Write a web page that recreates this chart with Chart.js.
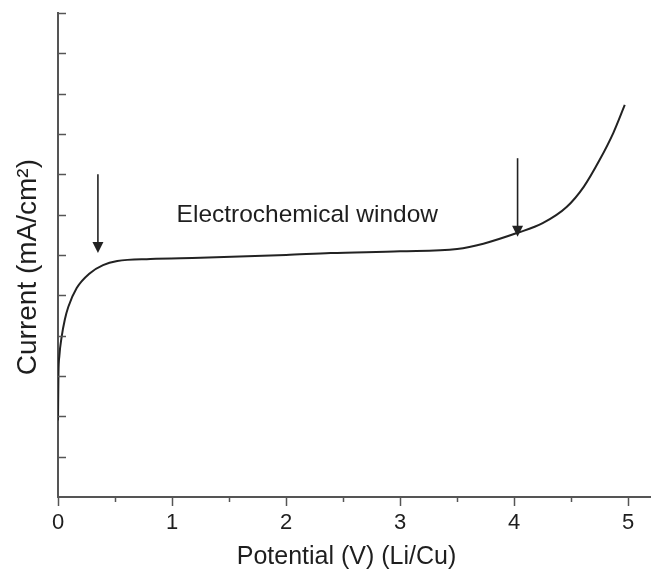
<!DOCTYPE html>
<html>
<head>
<meta charset="utf-8">
<script src="https://cdn.jsdelivr.net/npm/chart.js@4/dist/chart.umd.min.js"></script>
<style>
  html, body { margin: 0; padding: 0; background: #ffffff; }
  #wrap { width: 651px; height: 573px; position: relative; }
</style>
</head>
<body>
<div id="wrap"><canvas id="c" width="651" height="573"></canvas></div>
<script>
// ---- data ----
const potential = [0, 0.004, 0.012, 0.032, 0.06, 0.09, 0.164, 0.28, 0.395, 0.52, 0.81, 1.25, 2.0, 2.39, 3.0, 3.5, 3.73, 4.03, 4.25, 4.46, 4.61, 4.75, 4.87, 4.97];
const current   = [1.9, 3.05, 3.5, 3.97, 4.4, 4.71, 5.18, 5.55, 5.75, 5.85, 5.9, 5.93, 6.0, 6.05, 6.09, 6.15, 6.28, 6.55, 6.79, 7.19, 7.69, 8.36, 9.03, 9.72];
const xTickValues = [0, 0.5, 1, 1.5, 2, 2.5, 3, 3.5, 4, 4.5, 5];
const yTickValues = [0, 1, 2, 3, 4, 5, 6, 7, 8, 9, 10, 11, 12];
const arrowX    = [0.35, 4.03];
const arrowTop  = [8.0, 8.4];
const arrowTip  = [6.05, 6.45];
const annotationText = 'Electrochemical window';
const annotationPos = { x: 1.04, y: 6.82 };
const xTitle = 'Potential (V) (Li/Cu)';
const yTitle = 'Current (mA/cm\u00B2)';
const xTitleCenter = 2.53;   // along the potential axis
const yTitleCenter = 5.7;    // along the current axis

const FONT = '"Liberation Sans", Arial, Helvetica, sans-serif';
const TEXT = '#1e1e1e';
const AXIS = '#555555';

const points = potential.map((x, i) => ({ x: x, y: current[i] }));

const decorPlugin = {
  id: 'decor',
  afterDraw(chart) {
    const ctx = chart.ctx;
    const xs = chart.scales.x, ys = chart.scales.y;
    ctx.save();
    // inward y ticks
    ctx.strokeStyle = AXIS;
    ctx.lineWidth = 1.5;
    yTickValues.forEach(v => {
      if (v === 0) return;
      const py = Math.round(ys.getPixelForValue(v)) + 0.5;
      ctx.beginPath();
      ctx.moveTo(xs.left, py);
      ctx.lineTo(xs.left + 8, py);
      ctx.stroke();
    });
    // minor x ticks (shorter, outward)
    xTickValues.forEach(v => {
      if (v % 1 === 0) return;
      const px = Math.round(xs.getPixelForValue(v)) + 0.5;
      ctx.beginPath();
      ctx.moveTo(px, ys.bottom);
      ctx.lineTo(px, ys.bottom + 5);
      ctx.stroke();
    });
    // arrows
    ctx.strokeStyle = '#222222';
    ctx.fillStyle = '#222222';
    ctx.lineWidth = 1.6;
    arrowX.forEach((ax, i) => {
      const px = xs.getPixelForValue(ax);
      const pTop = ys.getPixelForValue(arrowTop[i]);
      const pTip = ys.getPixelForValue(arrowTip[i]);
      const headH = 11, headW = 5.5;
      ctx.beginPath();
      ctx.moveTo(px, pTop);
      ctx.lineTo(px, pTip - headH + 1);
      ctx.stroke();
      ctx.beginPath();
      ctx.moveTo(px - headW, pTip - headH);
      ctx.lineTo(px + headW, pTip - headH);
      ctx.lineTo(px, pTip);
      ctx.closePath();
      ctx.fill();
    });
    // annotation text
    ctx.fillStyle = TEXT;
    ctx.font = '24.5px ' + FONT;
    ctx.textAlign = 'left';
    ctx.textBaseline = 'alphabetic';
    ctx.fillText(annotationText, xs.getPixelForValue(annotationPos.x), ys.getPixelForValue(annotationPos.y));
    // axis titles
    ctx.textAlign = 'center';
    ctx.textBaseline = 'middle';
    ctx.font = '25px ' + FONT;
    ctx.fillText(xTitle, xs.getPixelForValue(xTitleCenter), chart.height - 16);
    ctx.save();
    ctx.translate(28, ys.getPixelForValue(yTitleCenter));
    ctx.rotate(-Math.PI / 2);
    ctx.font = '28px ' + FONT;
    ctx.fillText(yTitle, 0, 0);
    ctx.restore();
    ctx.restore();
  }
};

new Chart(document.getElementById('c'), {
  type: 'line',
  data: {
    datasets: [{
      data: points,
      borderColor: '#222222',
      borderWidth: 2,
      pointRadius: 0,
      fill: false,
      cubicInterpolationMode: 'monotone'
    }]
  },
  options: {
    responsive: false,
    animation: false,
    events: [],
    layout: { padding: { top: 13, right: 0, bottom: 0, left: 0 } },
    plugins: { legend: { display: false }, tooltip: { enabled: false } },
    scales: {
      x: {
        type: 'linear',
        min: 0,
        max: 5.2,
        afterBuildTicks: s => { s.ticks = xTickValues.map(v => ({ value: v })); },
        afterFit: s => { s.height = 76; },
        border: { display: true, color: AXIS, width: 2 },
        grid: {
          display: true,
          drawOnChartArea: false,
          drawTicks: true,
          tickLength: 9,
          tickWidth: 1.5,
          tickColor: c => (c.tick && c.tick.value % 1 === 0) ? AXIS : 'rgba(0,0,0,0)'
        },
        ticks: {
          autoSkip: false,
          maxRotation: 0,
          padding: 4,
          color: TEXT,
          font: { family: FONT, size: 22 },
          callback: v => (v % 1 === 0 ? String(v) : '')
        },
        title: { display: false }
      },
      y: {
        type: 'linear',
        min: 0,
        max: 12,
        afterBuildTicks: s => { s.ticks = yTickValues.map(v => ({ value: v })); },
        afterFit: s => { s.width = 58; },
        border: { display: true, color: AXIS, width: 2 },
        grid: { display: true, drawOnChartArea: false, drawTicks: false },
        ticks: { display: false },
        title: { display: false }
      }
    }
  },
  plugins: [decorPlugin]
});
</script>
</body>
</html>
